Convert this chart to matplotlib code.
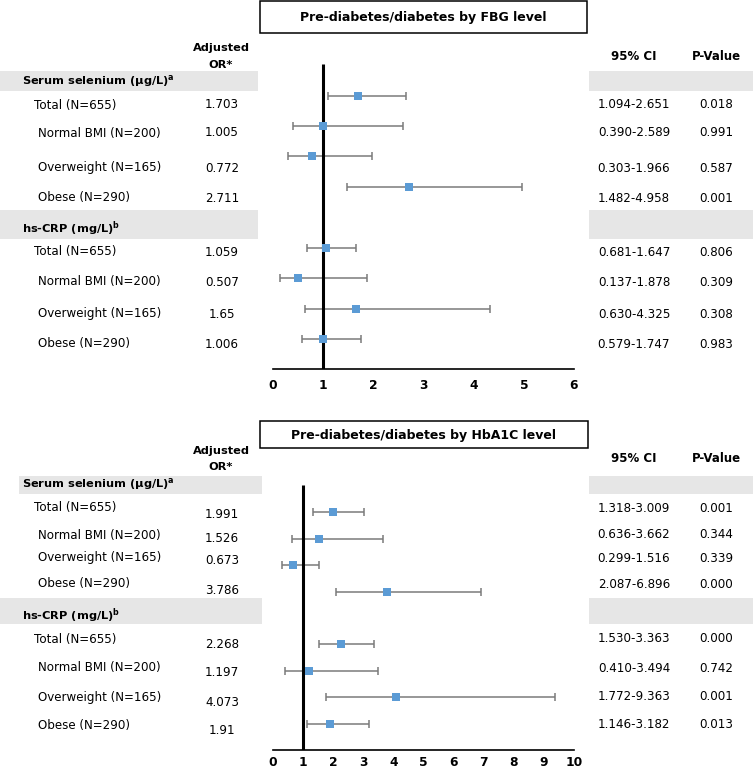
import matplotlib

matplotlib.use("Agg")
import matplotlib.pyplot as plt
from matplotlib.patches import Rectangle

plt.rcParams["font.family"] = ["DejaVu Sans"]
plt.rcParams["mathtext.fontset"] = "dejavusans"

# ---- data -------------------------------------------------------------
subgroups = ["Total (N=655)", "Normal BMI (N=200)", "Overweight (N=165)", "Obese (N=290)"]

fbg_sel_or = [1.703, 1.005, 0.772, 2.711]
fbg_sel_lo = [1.094, 0.390, 0.303, 1.482]
fbg_sel_hi = [2.651, 2.589, 1.966, 4.958]
fbg_sel_p = ["0.018", "0.991", "0.587", "0.001"]
fbg_crp_or = [1.059, 0.507, 1.65, 1.006]
fbg_crp_lo = [0.681, 0.137, 0.630, 0.579]
fbg_crp_hi = [1.647, 1.878, 4.325, 1.747]
fbg_crp_p = ["0.806", "0.309", "0.308", "0.983"]

hba_sel_or = [1.991, 1.526, 0.673, 3.786]
hba_sel_lo = [1.318, 0.636, 0.299, 2.087]
hba_sel_hi = [3.009, 3.662, 1.516, 6.896]
hba_sel_p = ["0.001", "0.344", "0.339", "0.000"]
hba_crp_or = [2.268, 1.197, 4.073, 1.91]
hba_crp_lo = [1.530, 0.410, 1.772, 1.146]
hba_crp_hi = [3.363, 3.494, 9.363, 3.182]
hba_crp_p = ["0.000", "0.742", "0.001", "0.013"]

W, H = 753, 771
BLUE = "#5b9bd5"
GREY = "#7a7a7a"
BAND = "#e6e6e6"
FS = 8.6   # body text
FSB = 8.2  # bold headers

fig = plt.figure(figsize=(W / 100, H / 100), dpi=100)
bg = fig.add_axes([0, 0, 1, 1], zorder=0)
bg.set_xlim(0, W)
bg.set_ylim(H, 0)
bg.axis("off")


def px_axes(x0, x1, ytop, ybot):
    return fig.add_axes([x0 / W, (H - ybot) / H, (x1 - x0) / W, (ybot - ytop) / H], zorder=2)


def panel(p):
    # title box
    bx0, bx1, by0, by1 = p["box"]
    bg.add_patch(Rectangle((bx0, by0), bx1 - bx0, by1 - by0, fill=False, lw=1.1, ec="black"))
    bg.text((bx0 + bx1) / 2, (by0 + by1) / 2 + 1, p["title"], ha="center", va="center",
            fontsize=9.0, fontweight="bold")

    # column headers
    hy = p["head_y"]
    bg.text(221, hy[0], "Adjusted", ha="center", va="center", fontsize=FSB, fontweight="bold")
    bg.text(221, hy[1], "OR*", ha="center", va="center", fontsize=FSB, fontweight="bold")
    bg.text(634, p["ci_head_y"], "95% CI", ha="center", va="center", fontsize=FSB + 0.3, fontweight="bold")
    bg.text(716, p["ci_head_y"], "P-Value", ha="center", va="center", fontsize=FSB + 0.3, fontweight="bold")

    groups = [
        (r"Serum selenium (μg/L)$^{\mathbf{a}}$", p["sel"], p["sel_band"], p["sel_lab_y"], p["sel_val_y"]),
        (r"hs-CRP (mg/L)$^{\mathbf{b}}$", p["crp"], p["crp_band"], p["crp_lab_y"], p["crp_val_y"]),
    ]
    for name, (ors, los, his, ps), (lx0, lx1, y0, y1, ty), lab_y, val_y in groups:
        bg.add_patch(Rectangle((lx0, y0), lx1 - lx0, y1 - y0, color=BAND, lw=0))
        bg.add_patch(Rectangle((589, y0), W - 589, y1 - y0, color=BAND, lw=0))
        bg.text(22, ty, name, ha="left", va="center", fontsize=FSB, fontweight="bold")
        for i, lab in enumerate(subgroups):
            bg.text(34 if i == 0 else 38, lab_y[i], lab, ha="left", va="center", fontsize=FS)
            bg.text(222, val_y[i], str(ors[i]), ha="center", va="center", fontsize=FS)
            bg.text(634, lab_y[i], f"{los[i]:.3f}-{his[i]:.3f}", ha="center", va="center", fontsize=FS)
            bg.text(716, lab_y[i], ps[i], ha="center", va="center", fontsize=FS)

    # forest plot
    ax = px_axes(273, 574, p["ax_top"], p["ax_bot"])
    ax.patch.set_alpha(0)
    ax.set_xlim(0, p["xmax"])
    ax.set_ylim(p["ax_bot"], p["ax_top"])
    for s in ("top", "right", "left"):
        ax.spines[s].set_visible(False)
    ax.spines["bottom"].set_linewidth(1.2)
    ax.set_yticks([])
    ax.set_xticks(range(p["xmax"] + 1))
    ax.tick_params(axis="x", length=0, pad=p["pad"], labelsize=8.8)
    for t in ax.get_xticklabels():
        t.set_fontweight("bold")
    ax.vlines(1, p["ref_top"], p["ax_bot"], color="black", lw=2.2, zorder=3)

    y0, step = p["row0"], p["step"]
    for k, (ors, los, his, _) in enumerate([p["sel"], p["crp"]]):
        ys = [y0 + (i + 5 * k) * step for i in range(4)]
        lo_err = [o - l for o, l in zip(ors, los)]
        hi_err = [h - o for o, h in zip(ors, his)]
        ax.errorbar(ors, ys, xerr=[lo_err, hi_err], fmt="none", ecolor=GREY, elinewidth=1.1,
                    capsize=3.2, capthick=1.1, zorder=2)
        ax.scatter(ors, ys, marker="s", s=36, color=BLUE, zorder=4, linewidths=0)


panel({
    "title": "Pre-diabetes/diabetes by FBG level",
    "box": (260, 587, 1, 33),
    "head_y": (48, 65), "ci_head_y": 56,
    "sel": (fbg_sel_or, fbg_sel_lo, fbg_sel_hi, fbg_sel_p),
    "crp": (fbg_crp_or, fbg_crp_lo, fbg_crp_hi, fbg_crp_p),
    "sel_band": (0, 258, 71, 91, 81),
    "crp_band": (0, 258, 210, 239, 229),
    "sel_lab_y": [105, 133, 168, 198], "sel_val_y": [105, 133, 168, 198],
    "crp_lab_y": [252, 282, 314, 344], "crp_val_y": [252, 282, 314, 344],
    "ax_top": 60, "ax_bot": 369, "ref_top": 64, "xmax": 6, "pad": 7.5,
    "row0": 95.5, "step": 30.45,
})

panel({
    "title": "Pre-diabetes/diabetes by HbA1C level",
    "box": (260, 588, 421, 448),
    "head_y": (451, 467), "ci_head_y": 459,
    "sel": (hba_sel_or, hba_sel_lo, hba_sel_hi, hba_sel_p),
    "crp": (hba_crp_or, hba_crp_lo, hba_crp_hi, hba_crp_p),
    "sel_band": (19, 262, 476, 494, 484),
    "crp_band": (0, 262, 598, 624, 616),
    "sel_lab_y": [508, 535, 558, 584], "sel_val_y": [514, 538, 561, 590],
    "crp_lab_y": [639, 668, 697, 725], "crp_val_y": [644, 673, 702, 731],
    "ax_top": 480, "ax_bot": 750, "ref_top": 485, "xmax": 10, "pad": 4.5,
    "row0": 512.3, "step": 26.4,
})

fig.savefig("out.png", dpi=100)
